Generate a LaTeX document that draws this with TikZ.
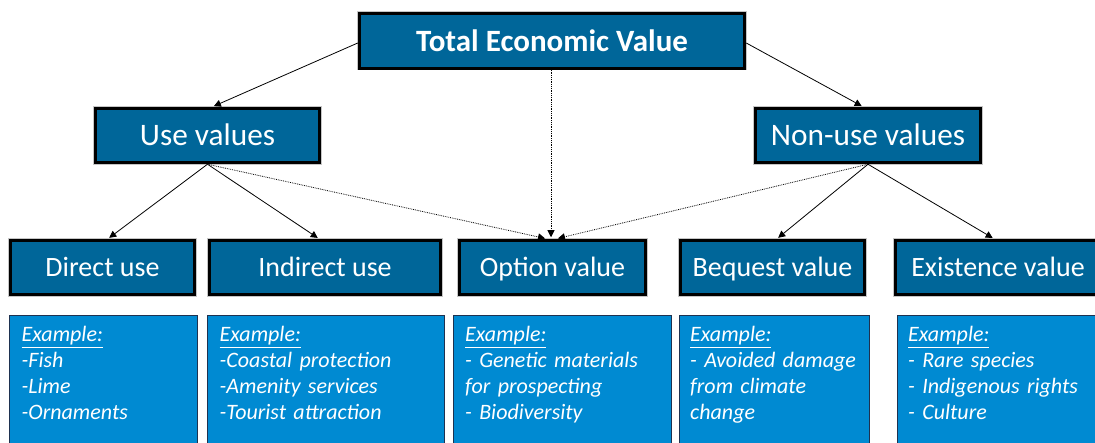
\documentclass[tikz,border=0pt]{standalone}
\usepackage{fontspec}
\setmainfont{Carlito}
\usetikzlibrary{arrows.meta}
\definecolor{hdr}{RGB}{0,102,153}
\definecolor{exfill}{RGB}{0,138,210}
\definecolor{exline}{RGB}{30,50,80}
\begin{document}
\begin{tikzpicture}[x=1pt,y=-1pt,
  hbox/.style={draw=black, line width=3pt, fill=hdr, text=white,
    preaction={draw=gray!45, line width=4.5pt},
    minimum height=54.5pt, inner sep=0pt},
  lvtwo/.style={hbox, font=\fontsize{31.3}{36}\selectfont, text height=21pt, text depth=0pt},
  lvthree/.style={hbox, font=\fontsize{28}{33}\selectfont, text height=19pt, text depth=0pt},
  exbox/.style={draw=exline, line width=1pt, fill=exfill, anchor=north west,
    inner sep=0pt, minimum height=150pt},
  extext/.style={text=white, anchor=base west, align=left, inner sep=0pt,
    font=\fontsize{22}{26}\selectfont\itshape},
  conn/.style={line width=0.8pt, -{Triangle[length=7pt,width=7pt]}, shorten >=1.5pt},
  dconn/.style={conn, densely dotted}]
\useasboundingbox (0,0) rectangle (1095,443);
\clip (0,0) rectangle (1095,443);
% headings
\node[hbox, minimum width=385.5pt, font=\fontsize{31}{36}\selectfont\bfseries, text height=21pt, text depth=0pt] (tev) at (552,41) {Total Economic Value};
\node[lvtwo, minimum width=224.5pt] (uv) at (207.5,135.5) {Use values};
\node[lvtwo, minimum width=225.5pt] (nuv) at (868,135.5) {Non-use values};
\node[lvthree, minimum width=184.5pt] (du) at (102.5,267.5) {Direct use};
\node[lvthree, minimum width=231.5pt] (iu) at (325,267.5) {Indirect use};
\node[lvthree, minimum width=186.5pt] (ov) at (552.5,267.5) {Option value};
\node[lvthree, minimum width=184.5pt] (bv) at (772.5,267.5) {Bequest value};
\node[lvthree, minimum width=205.5pt] (ev) at (998,267.5) {Existence value};
% example boxes
\node[exbox, minimum width=188pt] (exa) at (9,315) {};
\node[exbox, minimum width=237pt] (exb) at (207,315) {};
\node[exbox, minimum width=218pt] (exc) at (453,315) {};
\node[exbox, minimum width=190pt] (exd) at (679,315) {};
\node[exbox, minimum width=215pt] (exe) at (897,315) {};
\node[extext, text width=170pt] (ta) at ([xshift=12.5pt,yshift=-27pt]exa.north west)
  {\underline{Example:}\\-Fish\\-Lime\\-Ornaments};
\node[extext, text width=220pt] (tb) at ([xshift=12.5pt,yshift=-27pt]exb.north west)
  {\underline{Example:}\\-Coastal protection\\-Amenity services\\-Tourist attraction};
\node[extext, text width=200pt] (tc) at ([xshift=12pt,yshift=-27pt]exc.north west)
  {\underline{Example:}\\- Genetic materials\\for prospecting\\- Biodiversity};
\node[extext, text width=175pt] (td) at ([xshift=11pt,yshift=-27pt]exd.north west)
  {\underline{Example:}\\- Avoided damage\\from climate\\change};
\node[extext, text width=190pt] (te) at ([xshift=11pt,yshift=-27pt]exe.north west)
  {\underline{Example:}\\- Rare species\\- Indigenous rights\\- Culture};
% connectors
\draw[conn] ([yshift=-2pt]tev.west) -- ([xshift=5pt]uv.north);
\draw[conn] ([yshift=-2pt]tev.east) -- ([xshift=-5pt]nuv.north);
\draw[dconn] ([xshift=-1pt]tev.south) -- ([xshift=-1.5pt]ov.north);
\draw[conn] (uv.south) -- ([xshift=5.5pt]du.north);
\draw[conn] (uv.south) -- ([xshift=-6pt]iu.north);
\draw[dconn] (uv.south) -- ([xshift=-6pt]ov.north);
\draw[conn] (nuv.south) -- ([xshift=4.5pt]bv.north);
\draw[conn] (nuv.south) -- ([xshift=-4pt]ev.north);
\draw[dconn] (nuv.south) -- ([xshift=4pt]ov.north);
\end{tikzpicture}
\end{document}
